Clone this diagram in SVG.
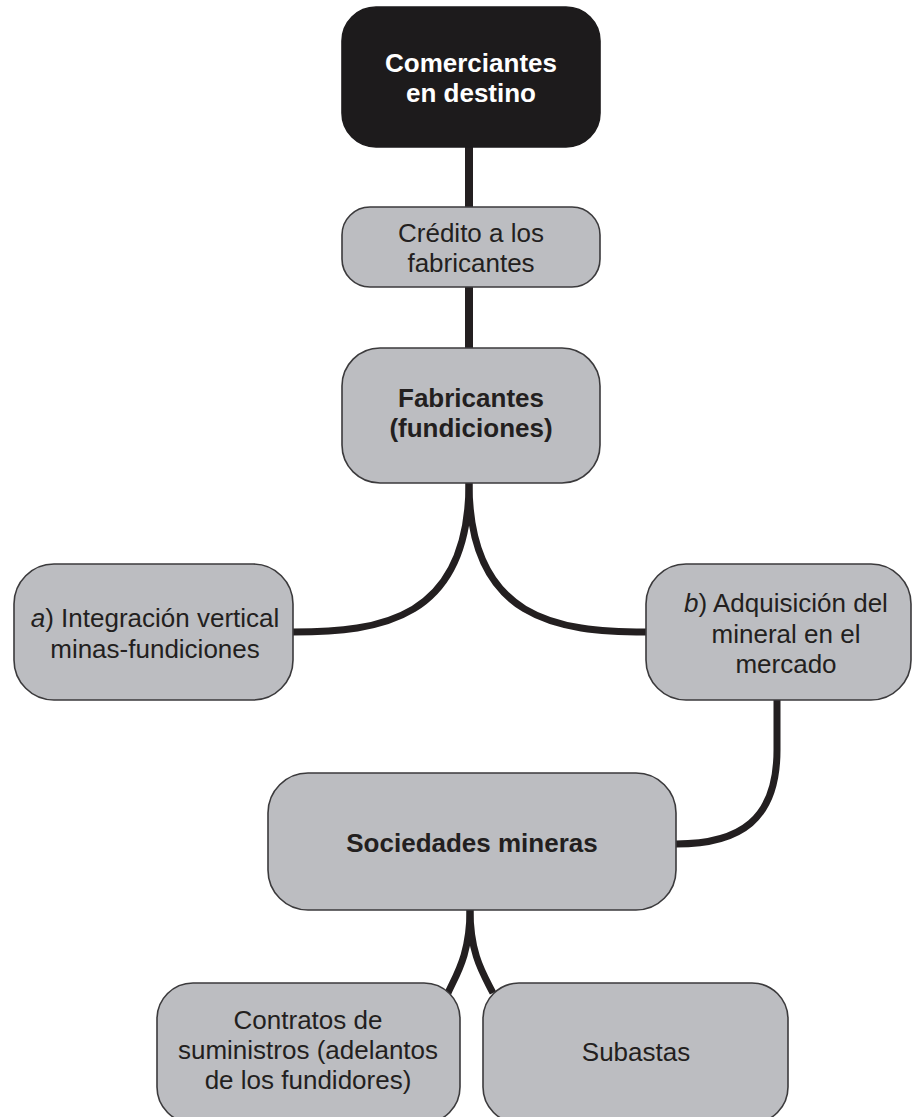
<svg xmlns="http://www.w3.org/2000/svg" width="912" height="1117" viewBox="0 0 912 1117">
<style>
.box{fill:#bcbdc1;stroke:#3b3a3c;stroke-width:1.6}
.dark{fill:#1d1b1c;stroke:#1d1b1c;stroke-width:1.6}
.t{font-family:"Liberation Sans",Arial,sans-serif;font-size:26px;fill:#231f20;text-anchor:middle}
.b{font-weight:bold}
.w{fill:#ffffff}
.c{fill:none;stroke:#231f20;stroke-width:7;stroke-linecap:butt}
</style>
<rect width="912" height="1117" fill="#ffffff"/>
<g id="connectors">
<path class="c" d="M469,146 V208" style="stroke-width:8"/>
<path class="c" d="M469,286 V349" style="stroke-width:8"/>
<path class="c" d="M469,483 C469,620 380,632 293,632"/>
<path class="c" d="M469,483 C469,620 558,632 646,632"/>
<path class="c" d="M777,700 V750 C777,820 740,844 676,844"/>
<path class="c" d="M470,910 C470,955 456,975 448,993"/>
<path class="c" d="M470,910 C470,955 484,975 493,993"/>
</g>
<g id="comerciantes">
<rect class="dark" x="342" y="7" width="258" height="140" rx="34"/>
<text class="t b w" x="471" y="72">Comerciantes</text>
<text class="t b w" x="471" y="102">en destino</text>
</g>
<g id="credito">
<rect class="box" x="342" y="207" width="258" height="80" rx="28"/>
<text class="t" x="471" y="242">Crédito a los</text>
<text class="t" x="471" y="272">fabricantes</text>
</g>
<g id="fabricantes">
<rect class="box" x="342" y="348" width="258" height="135" rx="38"/>
<text class="t b" x="471" y="407">Fabricantes</text>
<text class="t b" x="471" y="437">(fundiciones)</text>
</g>
<g id="integracion">
<rect class="box" x="14" y="564" width="279" height="136" rx="40"/>
<text class="t" x="155" y="627"><tspan font-style="italic">a</tspan>) Integración vertical</text>
<text class="t" x="155" y="658">minas-fundiciones</text>
</g>
<g id="adquisicion">
<rect class="box" x="646" y="564" width="265" height="136" rx="40"/>
<text class="t" x="786" y="612"><tspan font-style="italic">b</tspan>) Adquisición del</text>
<text class="t" x="786" y="643">mineral en el</text>
<text class="t" x="786" y="673">mercado</text>
</g>
<g id="sociedades">
<rect class="box" x="268" y="773" width="408" height="137" rx="40"/>
<text class="t b" x="472" y="852">Sociedades mineras</text>
</g>
<g id="contratos">
<rect class="box" x="157" y="983" width="303" height="140" rx="36"/>
<text class="t" x="308" y="1029">Contratos de</text>
<text class="t" x="308" y="1059">suministros (adelantos</text>
<text class="t" x="308" y="1089">de los fundidores)</text>
</g>
<g id="subastas">
<rect class="box" x="483" y="983" width="305" height="140" rx="36"/>
<text class="t" x="636" y="1061">Subastas</text>
</g>
</svg>
